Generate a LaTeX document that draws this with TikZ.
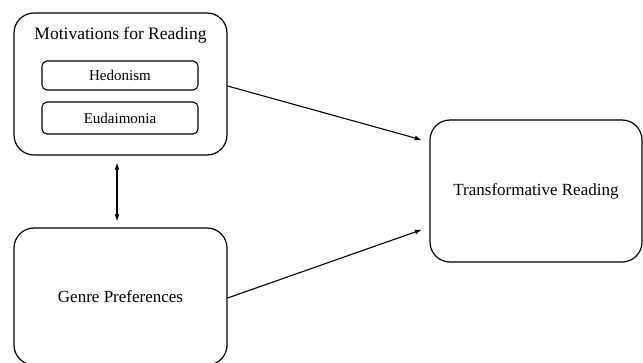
\documentclass[tikz,border=0pt]{standalone}
\usepackage{fontspec}
\setmainfont{Liberation Serif}
\usetikzlibrary{arrows.meta}
\tikzset{
	bigbox/.style={draw, line width=1.2pt, rounded corners=20pt, minimum width=213pt, minimum height=142pt, font=\fontsize{17}{20}\selectfont},
	smallbox/.style={draw, line width=1.1pt, rounded corners=5pt, minimum width=156pt, minimum height=30pt, font=\fontsize{15}{18}\selectfont},
	link/.style={line width=1.1pt, -{Latex[length=7pt,width=5pt]}}
}
\begin{document}
\begin{tikzpicture}[x=1pt, y=-1pt]
	\useasboundingbox (0,0) rectangle (643,362);
	\node [bigbox] (mot) at (120.5,84) {};
	\node [font=\fontsize{17.5}{20}\selectfont] (title) at (120.5,35) {Motivations for Reading};
	\node [smallbox, minimum height=29pt] (hed) at (120,75.5) {Hedonism};
	\node [smallbox, minimum height=32pt] (eud) at (120,118) {Eudaimonia};
	\node [bigbox, minimum height=137pt] (gen) at (120.5,296.5) {Genre Preferences};
	\node [bigbox, minimum width=212pt] (trans) at (536,191) {Transformative Reading};
	% connectors
	\draw [link, {Latex[length=7pt,width=5pt]}-{Latex[length=7pt,width=5pt]}, shorten <=7pt, shorten >=6pt] ([xshift=-3.5pt]mot.south) -- ([xshift=-3.5pt]gen.north);
	\draw [link, shorten >=8pt] ([yshift=-2pt]mot.east) -- ([yshift=49pt]trans.west);
	\draw [link, shorten >=8pt] ([yshift=-1.5pt]gen.east) -- ([yshift=-36pt]trans.west);
\end{tikzpicture}
\end{document}
